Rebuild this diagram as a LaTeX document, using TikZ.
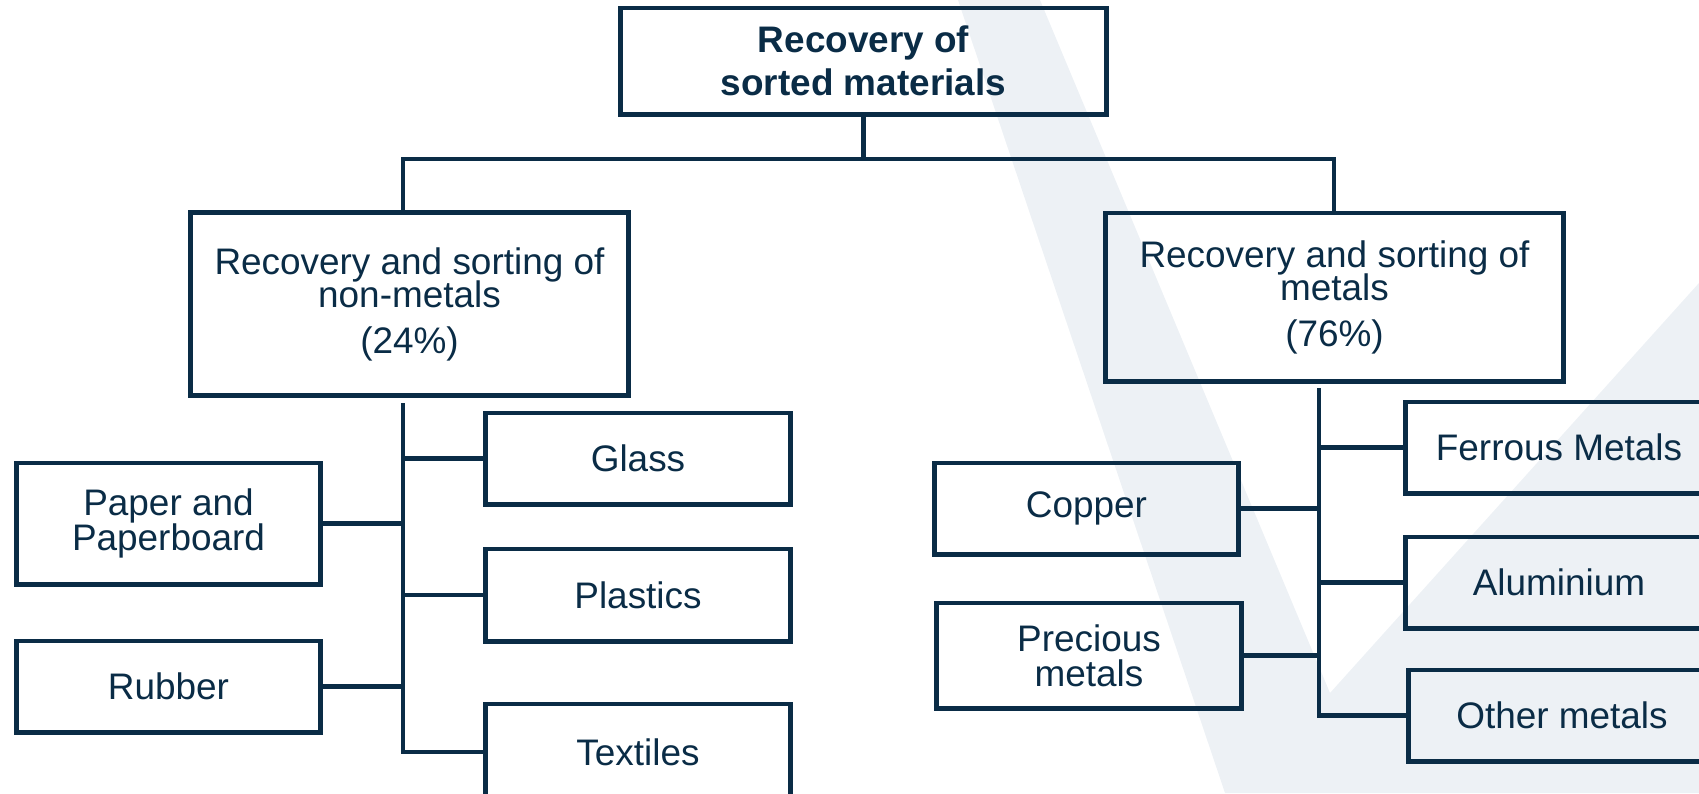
\documentclass[tikz,border=0pt]{standalone}
\usepackage{fontspec}
\setmainfont{Liberation Sans}
\usepackage{tikz}
\usetikzlibrary{calc}

\definecolor{inkblue}{RGB}{10,44,70}
\definecolor{markgray}{RGB}{237,241,245}
\lineskiplimit=-10pt

\begin{document}
\begin{tikzpicture}[x=0.01cm, y=-0.01cm,
		box/.style={draw=inkblue, line width=1.4pt, text=inkblue, inner sep=0pt, align=center, font=\fontsize{10.5}{10}\selectfont},
		midbox/.style={box, font=\fontsize{10.5}{9.6}\selectfont},
		child/.style={box, minimum width=3.04cm, minimum height=0.91cm},
		link/.style={draw=inkblue, line width=1.3pt}]
				\useasboundingbox (0,0) rectangle (1699,793);
				
				\fill [markgray] (958,0) -- (1040,0) -- (1330,693) -- (1699,283) -- (1699,793) -- (1225,793) -- cycle;
				
				\node [box, font=\fontsize{10.5}{12.2}\selectfont\bfseries, minimum width=4.85cm, minimum height=1.06cm] (top) at (863.5,61) {Recovery of\\sorted materials};
				
				\node [midbox, minimum width=4.37cm, minimum height=1.82cm] (nonmet) at (409.5,304) {Recovery and sorting of\\non-metals\\[3.3pt](24\%)};
				\node [midbox, minimum width=4.57cm, minimum height=1.68cm] (metal) at (1334.5,297) {Recovery and sorting of\\metals\\[3.3pt](76\%)};
				
				\node [child] (glass) at (638,458.5) {Glass};
				\node [child, minimum height=1.21cm] (paper) at (168.5,523.5) {Paper and\\Paperboard};
				\node [child, minimum height=0.92cm] (plastics) at (638,595) {Plastics};
				\node [child] (rubber) at (168.5,686.5) {Rubber};
				\node [child, minimum height=0.96cm] (textiles) at (638,752) {Textiles};
				
				\node [child, minimum width=3.06cm] (ferrous) at (1559,447.5) {Ferrous Metals};
				\node [child] (copper) at (1086.5,508.5) {Copper};
				\node [child, minimum width=3.06cm] (alu) at (1559,582.5) {Aluminium};
				\node [child, minimum height=1.05cm] (precious) at (1089,655.5) {Precious\\metals};
				\node [child, minimum width=3.06cm] (other) at (1562,715.5) {Other metals};
				
				\coordinate (busL) at (403,159);
				\coordinate (busR) at (1334,159);
				\draw [link] (top.south) -- (top.south |- busL);
				\draw [link] (nonmet.north -| busL) -- (busL) -- (busR) -- (metal.north -| busR);
				
				\coordinate (trunkL) at (403,403);
				\draw [link] (trunkL) |- (textiles.west);
				\foreach \n/\s in {glass/west, paper/east, plastics/west, rubber/east}
					\draw [link] (\n.\s) -- (\n.\s -| trunkL);
				
				\coordinate (trunkR) at (1319,388);
				\draw [link] (trunkR) |- (other.west);
				\foreach \n/\s in {ferrous/west, copper/east, alu/west, precious/east}
					\draw [link] (\n.\s) -- (\n.\s -| trunkR);
\end{tikzpicture}
\end{document}
